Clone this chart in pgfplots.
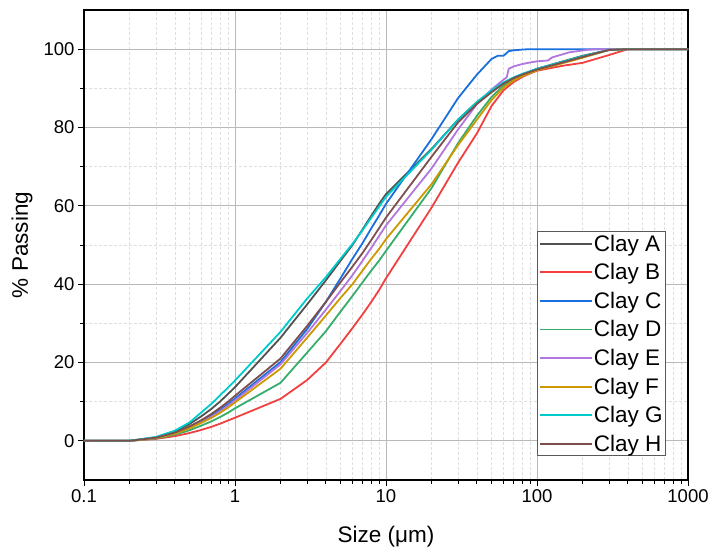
\documentclass[border=0pt]{standalone}
\usepackage{fontspec}
\setmainfont{Liberation Sans}
\usepackage{pgfplots}
\pgfplotsset{compat=1.18}
\definecolor{cA}{HTML}{515151}
\definecolor{cB}{HTML}{F14040}
\definecolor{cC}{HTML}{1A6FDF}
\definecolor{cD}{HTML}{37AD6B}
\definecolor{cE}{HTML}{B177DE}
\definecolor{cF}{HTML}{CC9900}
\definecolor{cG}{HTML}{00CBCC}
\definecolor{cH}{HTML}{7D4E4E}
\begin{document}
\begin{tikzpicture}
\begin{axis}[
  name=ax,
  xmode=log, scale only axis, width=604pt, height=470pt,
  xmin=0.1, xmax=1000, ymin=-10, ymax=110,
  xtick={0.1,1,10,100,1000}, xticklabels={0.1,1,10,100,1000},
  ytick={0,20,40,60,80,100}, minor ytick={10,30,50,70,90},
  grid=both,
  major grid style={gray!55, line width=0.8pt},
  minor grid style={gray!25, densely dashed, line width=0.6pt},
  tick align=outside, tick pos=left,
  major tick length=6pt, minor tick length=4pt,
  every tick/.style={black, line width=0.9pt},
  every minor tick/.style={black, line width=0.9pt},
  axis line style={black, line width=1.1pt},
  /pgf/number format/assume math mode=true,
  tick label style={font=\fontsize{18.5}{20}\selectfont},
  label style={font=\fontsize{22.5}{26}\selectfont},
  xlabel={Size (μm)}, ylabel={\% Passing},
  xlabel style={at={(axis description cs:0.5,-0.1213)}, anchor=center},
  ylabel style={at={(axis description cs:-0.1026,0.5)}, anchor=center},
  legend cell align=left,
  legend style={at={(0.9636,0.051)}, anchor=south east, draw=gray!70!black, line width=0.6pt,
    font=\fontsize{22.5}{26}\selectfont, inner sep=1.5pt, row sep=7.8pt,
    nodes={inner sep=1.5pt}},
  legend image code/.code={\draw[#1, line width=1.8pt] (0pt,0pt) -- (52pt,0pt);},
]
\addplot[cA, line width=1.8pt] coordinates {(0.1,0) (0.2,0) (0.3,0.9) (0.4,2.4) (0.5,4.3) (0.6,6.3) (0.7,8.2) (0.8,10.1) (0.9,12) (1,13.7) (2,26.3) (3,34.8) (4,41) (5,46) (6,50) (7,54) (8,57.5) (9,60.5) (10,63) (20,74.5) (30,82) (40,86.5) (50,89.3) (60,91.3) (70,92.7) (80,93.6) (90,94.3) (100,95) (200,98.3) (300,99.8) (400,100) (500,100) (1000,100)};
\addlegendentry{Clay A}
\addplot[cB, line width=1.8pt] coordinates {(0.1,0) (0.2,0) (0.3,0.5) (0.4,1.2) (0.5,2) (0.6,2.8) (0.7,3.6) (0.8,4.4) (0.9,5.2) (1,5.9) (2,10.7) (3,15.5) (4,20) (5,24.8) (6,28.8) (7,32.3) (8,35.5) (9,38.5) (10,41.5) (20,59.5) (30,71) (40,78.5) (50,85.5) (60,89.5) (70,91.6) (80,92.9) (90,93.8) (100,94.5) (150,95.8) (200,96.5) (300,98.5) (400,100) (500,100) (1000,100)};
\addlegendentry{Clay B}
\addplot[cC, line width=1.8pt] coordinates {(0.1,0) (0.2,0) (0.3,0.8) (0.4,2.0) (0.5,3.5) (0.6,5.0) (0.7,6.5) (0.8,8.0) (0.9,9.4) (1,10.8) (2,20.1) (3,28.5) (4,35.5) (5,41.5) (6,46.5) (7,50.5) (8,54.3) (9,57.5) (10,60.5) (20,77) (30,87.5) (40,93.5) (50,97.5) (55,98.3) (60,98.3) (65,99.5) (70,99.7) (80,99.9) (90,100) (100,100) (1000,100)};
\addlegendentry{Clay C}
\addplot[cD, line width=1.8pt] coordinates {(0.1,0) (0.2,0) (0.3,0.6) (0.4,1.6) (0.5,2.7) (0.6,3.9) (0.7,5) (0.8,6.1) (0.9,7.2) (1,8.3) (2,14.8) (3,22.5) (4,28) (5,33) (6,37) (7,40.5) (8,43.5) (9,46) (10,48.5) (20,64.5) (30,76) (40,83) (50,87.8) (60,90.7) (70,92.3) (80,93.3) (90,94) (100,94.7) (200,98) (300,99.8) (400,100) (500,100) (1000,100)};
\addlegendentry{Clay D}
\addplot[cE, line width=1.8pt] coordinates {(0.1,0) (0.2,0) (0.3,0.7) (0.4,1.9) (0.5,3.3) (0.6,4.8) (0.7,6.2) (0.8,7.6) (0.9,9) (1,10.3) (2,19.5) (3,27.5) (4,33.5) (5,38.3) (6,42.3) (7,46) (8,49.3) (9,52.3) (10,55) (20,69.5) (30,79.5) (40,86) (50,89.7) (60,92.2) (63,92.8) (65,95) (70,95.6) (80,96.2) (90,96.6) (100,96.9) (118,97.1) (126,97.9) (164,99.2) (212,99.8) (250,100) (500,100) (1000,100)};
\addlegendentry{Clay E}
\addplot[cF, line width=1.8pt] coordinates {(0.1,0) (0.2,0) (0.3,0.7) (0.4,1.8) (0.5,3.2) (0.6,4.6) (0.7,5.9) (0.8,7.2) (0.9,8.5) (1,9.8) (2,18.4) (3,26.3) (4,32) (5,36.5) (6,40) (7,43.5) (8,46.5) (9,49) (10,51.5) (20,65.5) (30,75.5) (40,82) (50,87) (60,90.2) (70,92) (80,93.1) (90,93.9) (100,94.6) (200,97.8) (300,99.8) (400,100) (500,100) (1000,100)};
\addlegendentry{Clay F}
\addplot[cG, line width=1.8pt] coordinates {(0.1,0) (0.2,0) (0.3,1.0) (0.4,2.6) (0.5,4.7) (0.6,7.3) (0.7,9.5) (0.8,11.7) (0.9,13.6) (1,15.4) (2,27.8) (3,36.3) (4,41.8) (5,46.5) (6,50.3) (7,53.8) (8,57) (9,59.8) (10,62.3) (20,74.3) (30,82) (40,86.5) (50,89.5) (60,91.5) (70,92.8) (80,93.7) (90,94.4) (100,95) (200,98.2) (300,99.8) (400,100) (500,100) (1000,100)};
\addlegendentry{Clay G}
\addplot[cH, line width=1.8pt] coordinates {(0.1,0) (0.2,0) (0.3,0.8) (0.4,2.1) (0.5,3.7) (0.6,5.3) (0.7,6.9) (0.8,8.5) (0.9,10) (1,11.5) (2,21) (3,29.3) (4,35.5) (5,40.5) (6,44.5) (7,48) (8,51.3) (9,54.3) (10,57) (20,72.5) (30,81.3) (40,86) (50,89) (60,91.2) (70,92.6) (80,93.5) (90,94.2) (100,94.8) (200,98) (300,99.8) (400,100) (500,100) (1000,100)};
\addlegendentry{Clay H}
\end{axis}
\pgfresetboundingbox
\path ([shift={(-84pt,-72pt)}]ax.south west) rectangle ([shift={(22pt,10pt)}]ax.north east);
\end{tikzpicture}
\end{document}
